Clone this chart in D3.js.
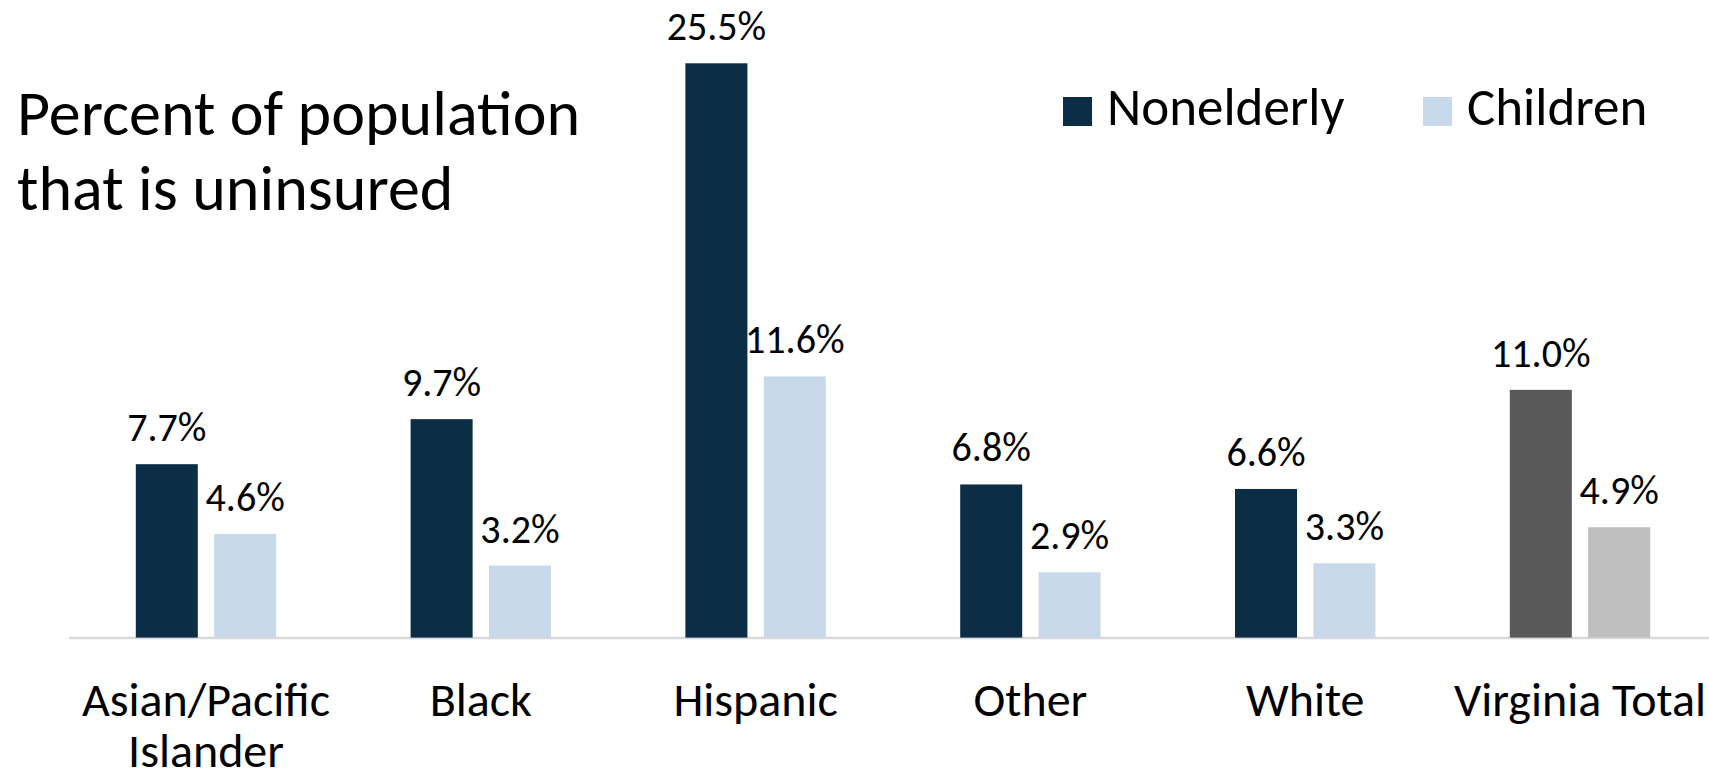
<!DOCTYPE html>
<html>
<head>
<meta charset="utf-8">
<script src="https://cdn.jsdelivr.net/npm/d3@7/dist/d3.min.js"></script>
<style>
  html, body { margin: 0; padding: 0; background: #fff; }
  svg { display: block; }
  text { font-family: Carlito, Calibri, Lato, "Open Sans", sans-serif; fill: #000; }
</style>
</head>
<body>
<svg id="chart" width="1709" height="776"></svg>
<script>
// Uninsured rates by race/ethnicity, Virginia
const categories = ["Asian/Pacific Islander", "Black", "Hispanic", "Other", "White", "Virginia Total"];
const seriesNames = ["Nonelderly", "Children"];
const nonelderly = [7.7, 9.7, 25.5, 6.8, 6.6, 11.0];
const children = [4.6, 3.2, 11.6, 2.9, 3.3, 4.9];
const categoryLines = [["Asian/Pacific", "Islander"], ["Black"], ["Hispanic"], ["Other"], ["White"], ["Virginia Total"]];

const colors = {
  Nonelderly: "#0b2d45",
  Children: "#c9d9ec",
  NonelderlyTotal: "#595959",
  ChildrenTotal: "#bfbfbf"
};

const svg = d3.select("#chart");
const baseline = 637.6;

const x0 = d3.scaleBand().domain(categories).range([68.6, 1717.4]).padding(0);
const groupWidth = 140.4;
const x1 = d3.scaleBand().domain(seriesNames)
  .range([x0.bandwidth() / 2 - groupWidth / 2, x0.bandwidth() / 2 + groupWidth / 2])
  .paddingInner(0.209).paddingOuter(0);
const y = d3.scaleLinear().domain([0, 25.5]).range([baseline, 63.3]);

const rows = categories.map((c, i) => ({
  category: c,
  lines: categoryLines[i],
  values: [
    { series: "Nonelderly", value: nonelderly[i] },
    { series: "Children", value: children[i] }
  ]
}));

// category axis
const axis = svg.append("g")
  .attr("transform", `translate(0,${baseline})`)
  .call(d3.axisBottom(x0).tickSize(0).tickFormat(""));
axis.select(".domain").attr("stroke", "#d9d9d9").attr("stroke-width", 2.5);
axis.selectAll(".tick text").remove();

const catLabels = svg.append("g").selectAll("text")
  .data(rows).join("text")
  .attr("x", d => x0(d.category) + x0.bandwidth() / 2)
  .attr("y", 716)
  .attr("text-anchor", "middle")
  .style("font-size", "48px");
catLabels.selectAll("tspan")
  .data(d => d.lines.map((l, j) => ({ l, j, cx: x0(d.category) + x0.bandwidth() / 2 })))
  .join("tspan")
  .attr("x", d => d.cx)
  .attr("dy", d => d.j === 0 ? 0 : 51)
  .text(d => d.l);

// bars
const groups = svg.append("g").selectAll("g")
  .data(rows).join("g")
  .attr("transform", d => `translate(${x0(d.category)},0)`);

const isTotal = d => d === "Virginia Total";

groups.selectAll("rect")
  .data(d => d.values.map(v => ({ ...v, category: d.category })))
  .join("rect")
  .attr("x", d => x1(d.series))
  .attr("width", x1.bandwidth())
  .attr("y", d => y(d.value))
  .attr("height", d => baseline - y(d.value))
  .attr("fill", d => isTotal(d.category) ? colors[d.series + "Total"] : colors[d.series]);

groups.selectAll("text")
  .data(d => d.values)
  .join("text")
  .attr("x", d => x1(d.series) + x1.bandwidth() / 2)
  .attr("y", d => y(d.value) - 23)
  .attr("text-anchor", "middle")
  .style("font-size", "40px")
  .text(d => d.value.toFixed(1) + "%");

// title
const title = svg.append("text")
  .attr("x", 17).attr("y", 135)
  .style("font-size", "64px");
title.append("tspan").attr("x", 17).text("Percent of population");
title.append("tspan").attr("x", 17).attr("dy", 75).text("that is uninsured");

// legend
const legendItems = [
  { name: "Nonelderly", x: 1063 },
  { name: "Children", x: 1423 }
];
const legend = svg.append("g").selectAll("g")
  .data(legendItems).join("g")
  .attr("transform", d => `translate(${d.x},97)`);
legend.append("rect")
  .attr("width", 29).attr("height", 29)
  .attr("fill", d => colors[d.name]);
legend.append("text")
  .attr("x", 44).attr("y", 28)
  .style("font-size", "53px")
  .text(d => d.name);
</script>
</body>
</html>
